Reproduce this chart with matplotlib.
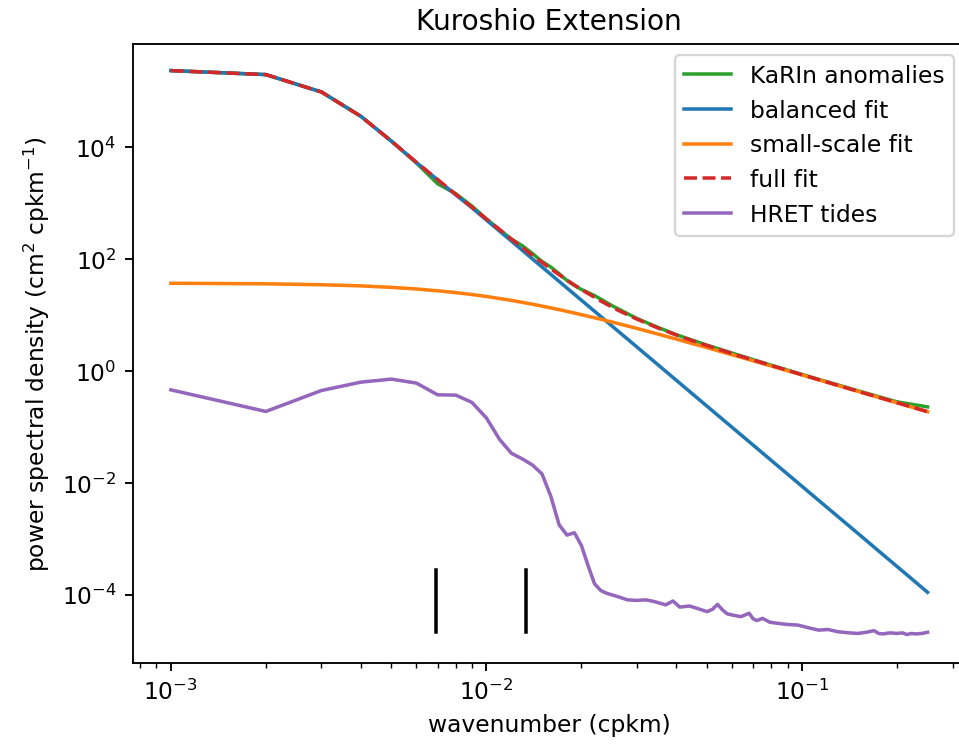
import numpy as np
import matplotlib
matplotlib.use("Agg")
import matplotlib.pyplot as plt

# wavenumbers (cpkm) and spectra (cm^2 cpkm^-1)
k_fit = [0.001, 0.002, 0.003, 0.004, 0.005, 0.006, 0.007, 0.008, 0.009, 0.010,
         0.012, 0.014, 0.016, 0.018, 0.020, 0.023, 0.026, 0.030, 0.035, 0.040,
         0.045, 0.050, 0.060, 0.070, 0.080, 0.100, 0.120, 0.150, 0.180, 0.210, 0.250]

balanced_fit = [2.36e5, 2.00e5, 9.77e4, 3.59e4, 1.29e4, 5.37e3, 2.63e3, 1.41e3, 8.30e2, 5.01e2,
                2.11e2, 1.01e2, 5.36e1, 3.05e1, 1.85e1, 9.53, 5.31, 2.69, 1.29, 0.683,
                0.390, 0.236, 9.91e-2, 4.76e-2, 2.52e-2, 8.72e-3, 3.66e-3, 1.27e-3, 5.31e-4, 2.55e-4, 1.11e-4]

smallscale_fit = [37.2, 36.4, 35.0, 33.4, 31.4, 29.4, 27.3, 25.3, 23.4, 21.6,
                  18.4, 15.7, 13.5, 11.7, 10.2, 8.48, 7.13, 5.79, 4.59, 3.73,
                  3.10, 2.63, 1.96, 1.53, 1.23, 0.853, 0.632, 0.437, 0.323, 0.251, 0.188]

full_fit = [2.36e5, 2.00e5, 9.78e4, 3.59e4, 1.29e4, 5.40e3, 2.66e3, 1.44e3, 8.53e2, 5.23e2,
            2.29e2, 1.17e2, 6.71e1, 4.22e1, 2.87e1, 1.80e1, 1.24e1, 8.48, 5.88, 4.41,
            3.49, 2.87, 2.06, 1.58, 1.26, 0.862, 0.636, 0.438, 0.324, 0.251, 0.188]

k_karin = [0.001, 0.002, 0.003, 0.004, 0.005, 0.006, 0.007, 0.008, 0.009, 0.010,
           0.011, 0.012, 0.013, 0.014, 0.015, 0.016, 0.017, 0.018, 0.019, 0.020,
           0.022, 0.025, 0.030, 0.035, 0.040, 0.050, 0.070, 0.100, 0.150, 0.200, 0.250]
karin = [2.36e5, 2.00e5, 9.8e4, 3.6e4, 1.29e4, 5.25e3, 2.24e3, 1.48e3, 8.91e2, 5.25e2,
         3.39e2, 2.29e2, 1.74e2, 1.26e2, 9.12e1, 7.24e1, 5.50e1, 4.17e1, 3.39e1, 2.88e1,
         2.24e1, 1.48e1, 8.71, 6.03, 4.47, 2.91, 1.60, 0.871, 0.447, 0.282, 0.229]

k_tide = [0.001, 0.002, 0.003, 0.004, 0.005, 0.006, 0.007, 0.008, 0.009, 0.010,
          0.011, 0.012, 0.013, 0.014, 0.015, 0.016, 0.017, 0.018, 0.019, 0.020,
          0.021, 0.022, 0.023, 0.024, 0.026, 0.028, 0.030, 0.032, 0.034, 0.036,
          0.037, 0.039, 0.041, 0.044, 0.047, 0.050, 0.052, 0.054, 0.056, 0.058,
          0.060, 0.064, 0.068, 0.070, 0.072, 0.075, 0.079, 0.084, 0.090, 0.097,
          0.105, 0.113, 0.121, 0.130, 0.141, 0.150, 0.160, 0.169, 0.175, 0.180,
          0.190, 0.200, 0.208, 0.215, 0.222, 0.230, 0.240, 0.250]
hret = [4.62e-1, 1.90e-1, 4.50e-1, 6.35e-1, 7.19e-1, 6.10e-1, 3.77e-1, 3.72e-1, 2.75e-1, 1.45e-1,
        6.03e-2, 3.39e-2, 2.69e-2, 2.09e-2, 1.45e-2, 5.75e-3, 1.78e-3, 1.17e-3, 1.29e-3, 7.59e-4,
        3.31e-4, 1.58e-4, 1.20e-4, 1.07e-4, 9.33e-5, 8.13e-5, 7.94e-5, 8.13e-5, 7.59e-5, 6.92e-5,
        6.61e-5, 7.76e-5, 6.03e-5, 6.31e-5, 5.62e-5, 5.01e-5, 5.50e-5, 6.76e-5, 5.37e-5, 4.57e-5,
        4.37e-5, 4.07e-5, 4.68e-5, 3.72e-5, 3.47e-5, 3.80e-5, 3.24e-5, 3.09e-5, 2.95e-5, 2.88e-5,
        2.57e-5, 2.34e-5, 2.40e-5, 2.19e-5, 2.09e-5, 2.04e-5, 2.14e-5, 2.29e-5, 2.04e-5, 2.00e-5,
        2.09e-5, 2.04e-5, 2.09e-5, 1.95e-5, 2.04e-5, 2.00e-5, 2.04e-5, 2.14e-5]

# wavenumbers of the two marked length scales
k_marks = [1 / 144, 1 / 75]

fig = plt.figure(figsize=(959.4 / 168, 744.4 / 168), dpi=168)
ax = fig.add_axes([133 / 959, 81 / 744, 832 / 959, 619 / 744])

ax.loglog(k_karin, karin, color="C2", label="KaRIn anomalies")
ax.loglog(k_fit, balanced_fit, color="C0", label="balanced fit")
ax.loglog(k_fit, smallscale_fit, color="C1", label="small-scale fit")
ax.loglog(k_fit, full_fit, color="C3", linestyle="--", label="full fit")
ax.loglog(k_tide, hret, color="C4", label="HRET tides")

for km in k_marks:
    ax.axvline(km, ymin=0.05, ymax=0.15, color="k")

ax.set_ylim(10 ** -5.218, 10 ** 5.855)
ax.set_xlabel("wavenumber (cpkm)")
ax.set_ylabel("power spectral density (cm$^2$ cpkm$^{-1}$)")
ax.set_title("Kuroshio Extension")
ax.legend(loc="upper right")

fig.savefig("out.png", dpi=168)
